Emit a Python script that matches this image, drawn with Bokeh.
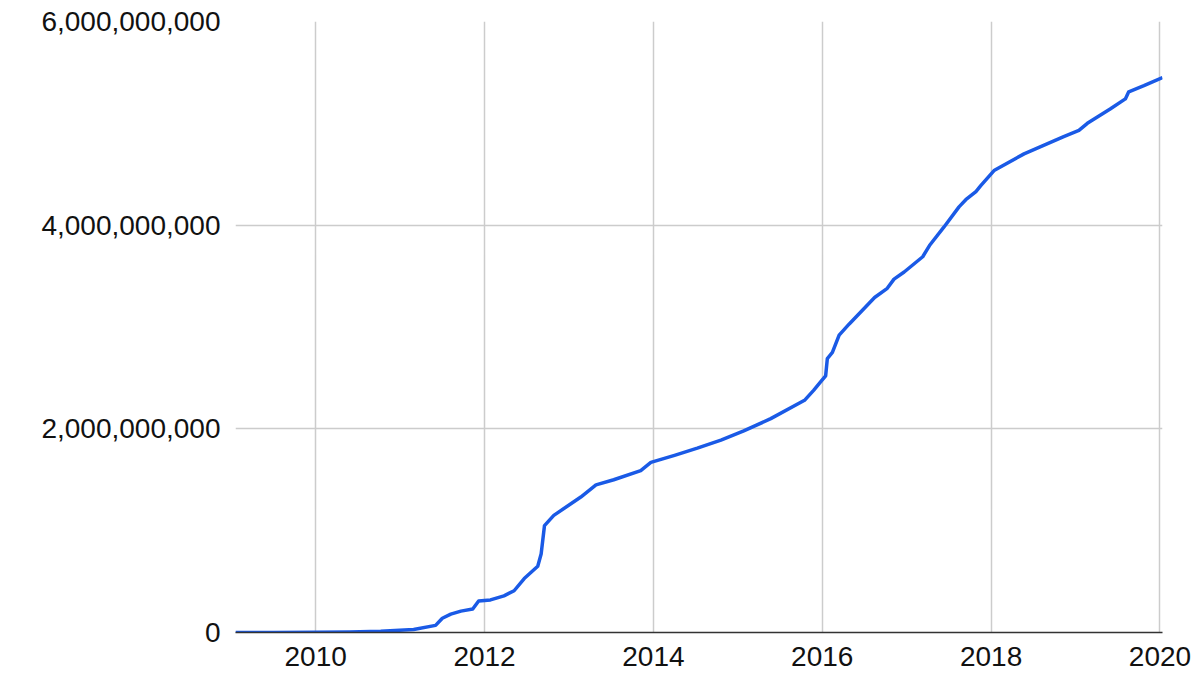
from bokeh.plotting import figure
from bokeh.models import Range1d, FixedTicker, NumeralTickFormatter
from bokeh.embed import file_html
from bokeh.resources import INLINE

years = [2009.05, 2009.5, 2010.0, 2010.4, 2010.77, 2011.16, 2011.42, 2011.5, 2011.6, 2011.72,
         2011.86, 2011.93, 2012.07, 2012.23, 2012.35, 2012.47, 2012.63, 2012.67, 2012.71, 2012.82,
         2013.14, 2013.32, 2013.53, 2013.85, 2013.97, 2014.25, 2014.52, 2014.8, 2015.07, 2015.39,
         2015.79, 2015.9, 2015.98, 2016.04, 2016.06, 2016.12, 2016.2, 2016.32, 2016.62, 2016.77,
         2016.85, 2016.97, 2017.19, 2017.27, 2017.44, 2017.62, 2017.70, 2017.82, 2017.88, 2018.04,
         2018.39, 2018.86, 2019.04, 2019.14, 2019.41, 2019.59, 2019.63, 2019.81, 2020.03]
values_bn = [0.0, 0.001, 0.002, 0.005, 0.013, 0.03, 0.07, 0.14, 0.18, 0.21,
             0.23, 0.31, 0.32, 0.36, 0.41, 0.53, 0.65, 0.77, 1.05, 1.15,
             1.33, 1.45, 1.50, 1.59, 1.67, 1.74, 1.81, 1.89, 1.98, 2.10,
             2.28, 2.38, 2.46, 2.52, 2.69, 2.75, 2.92, 3.03, 3.29, 3.38,
             3.47, 3.54, 3.69, 3.80, 3.98, 4.18, 4.25, 4.33, 4.39, 4.54,
             4.70, 4.87, 4.93, 5.00, 5.14, 5.24, 5.31, 5.37, 5.45]
x_ticks = [2010, 2012, 2014, 2016, 2018, 2020]
y_ticks = [0, 2e9, 4e9, 6e9]

values = [v * 1e9 for v in values_bn]

p = figure(width=1200, height=682, output_backend="svg", toolbar_location=None,
           x_range=Range1d(2009.05, 2020.03), y_range=Range1d(0, 6e9),
           min_border_left=235, min_border_right=38, min_border_top=21, min_border_bottom=50)
p.outline_line_color = None
p.background_fill_color = "white"

p.line(years, values, line_color="#1a5ae6", line_width=3.5, line_join="round")

p.xaxis.ticker = FixedTicker(ticks=x_ticks)
p.yaxis.ticker = FixedTicker(ticks=y_ticks)
p.yaxis.formatter = NumeralTickFormatter(format="0,0")
p.xaxis.formatter = NumeralTickFormatter(format="0")

for ax in (p.xaxis, p.yaxis):
    ax.major_label_text_font = "Liberation Sans"
    ax.major_label_text_font_size = "28px"
    ax.major_label_text_color = "#111111"
    ax.major_tick_line_color = None
    ax.minor_tick_line_color = None
    ax.major_tick_in = 0
    ax.major_tick_out = 0

p.yaxis.axis_line_color = None
p.yaxis.major_label_standoff = 15
p.xaxis.axis_line_color = "#333333"
p.xaxis.axis_line_width = 1.5
p.xaxis.major_label_standoff = 14

p.xgrid.grid_line_color = "#cccccc"
p.ygrid.grid_line_color = "#cccccc"
p.xgrid.grid_line_width = 1.5
p.ygrid.grid_line_width = 1.5

open("out.html", "w").write(file_html(p, INLINE))
